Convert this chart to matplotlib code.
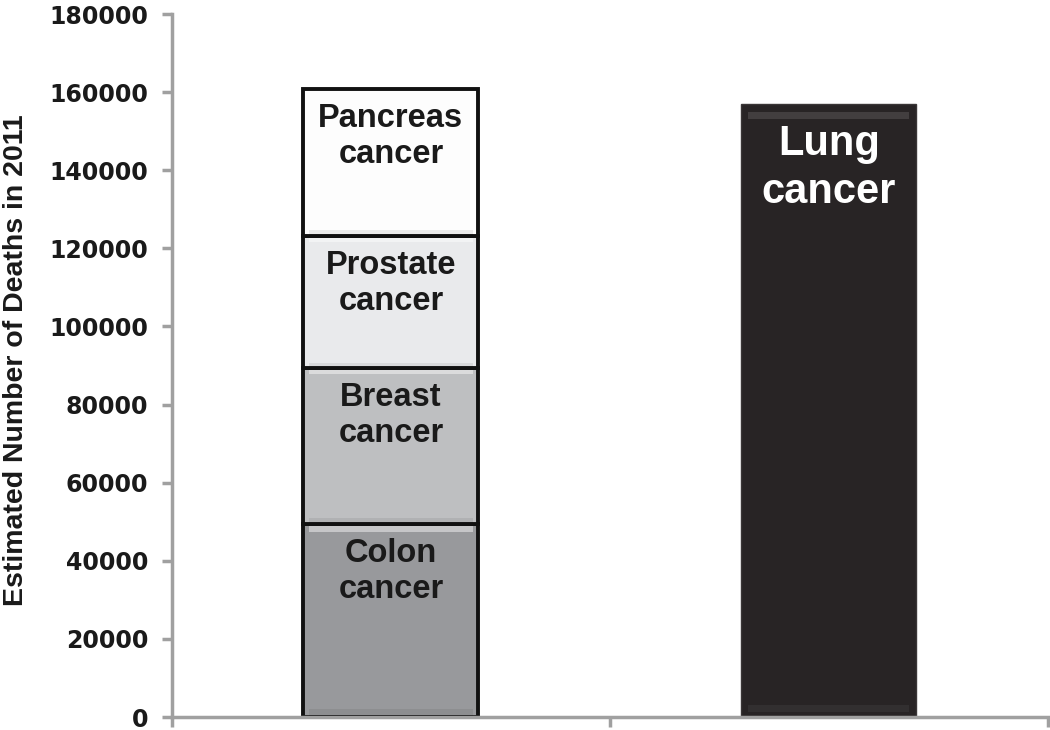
import matplotlib.pyplot as plt

# datos (muertes estimadas 2011)
segments = ["Colon\ncancer", "Breast\ncancer", "Prostate\ncancer", "Pancreas\ncancer"]
seg_values = [49380, 39970, 33720, 37660]
seg_colors = ["#98999c", "#bebfc1", "#e9eaec", "#fdfdfd"]
lung_label = "Lung\ncancer"
lung_value = 156940
yticks = [0, 20000, 40000, 60000, 80000, 100000, 120000, 140000, 160000, 180000]

fig = plt.figure(figsize=(10.5, 7.3), dpi=100)
ax = fig.add_axes([0.1638, 0.0178, 0.834, 0.963])

w = 0.40
bottom = 0
for lab, val, col in zip(segments, seg_values, seg_colors):
    ax.bar(0, val, w, bottom=bottom, color=col, edgecolor="#111111", linewidth=2.8, zorder=2)
    # bevel: lighter top band, darker bottom band
    ax.bar(0, val * 0.035, w * 0.94, bottom=bottom + val * 0.005, color="black", alpha=0.07,
           linewidth=0, zorder=3)
    ax.bar(0, val * 0.03, w * 0.94, bottom=bottom + val * 0.96, color="white", alpha=0.45,
           linewidth=0, zorder=3)
    ax.annotate(lab, (0, bottom + val), xytext=(0, -10), textcoords="offset points",
                ha="center", va="top", fontsize=23.5, fontweight="bold",
                family="Liberation Sans", color="#1a1a1a", linespacing=1.2, zorder=4)
    bottom += val

ax.bar(1, lung_value, w, color="#282425", edgecolor="#3a3637", linewidth=1.0, zorder=2)
ax.bar(1, lung_value * 0.012, w * 0.92, bottom=lung_value * 0.975, color="white", alpha=0.12,
       linewidth=0, zorder=3)
ax.bar(1, lung_value * 0.012, w * 0.92, bottom=lung_value * 0.008, color="white", alpha=0.05,
       linewidth=0, zorder=3)
ax.annotate(lung_label, (1, lung_value), xytext=(0, -14), textcoords="offset points",
            ha="center", va="top", fontsize=30, fontweight="bold",
            family="Liberation Sans", color="white", linespacing=1.28, zorder=4)

ax.set_xlim(-0.5, 1.5)
ax.set_ylim(0, 180000)
ax.set_yticks(yticks)
ax.set_yticklabels([str(t) for t in yticks], fontsize=17, fontweight="bold",
                   family="DejaVu Sans", color="#1a1a1a")
ax.set_xticks([-0.5, 0.5, 1.5])
ax.set_xticklabels([])

for s in ["top", "right"]:
    ax.spines[s].set_visible(False)
for s in ["left", "bottom"]:
    ax.spines[s].set_color("#a0a0a0")
    ax.spines[s].set_linewidth(2.5)
ax.tick_params(axis="both", color="#a0a0a0", width=2.5, length=7, direction="out")
ax.tick_params(axis="y", pad=10)

ax.set_ylabel("Estimated Number of Deaths in 2011", fontsize=20.5, fontweight="bold",
              family="Liberation Sans", color="#1a1a1a")
ax.yaxis.set_label_coords(-0.163, 0.508)

fig.savefig("out.png", dpi=100)
